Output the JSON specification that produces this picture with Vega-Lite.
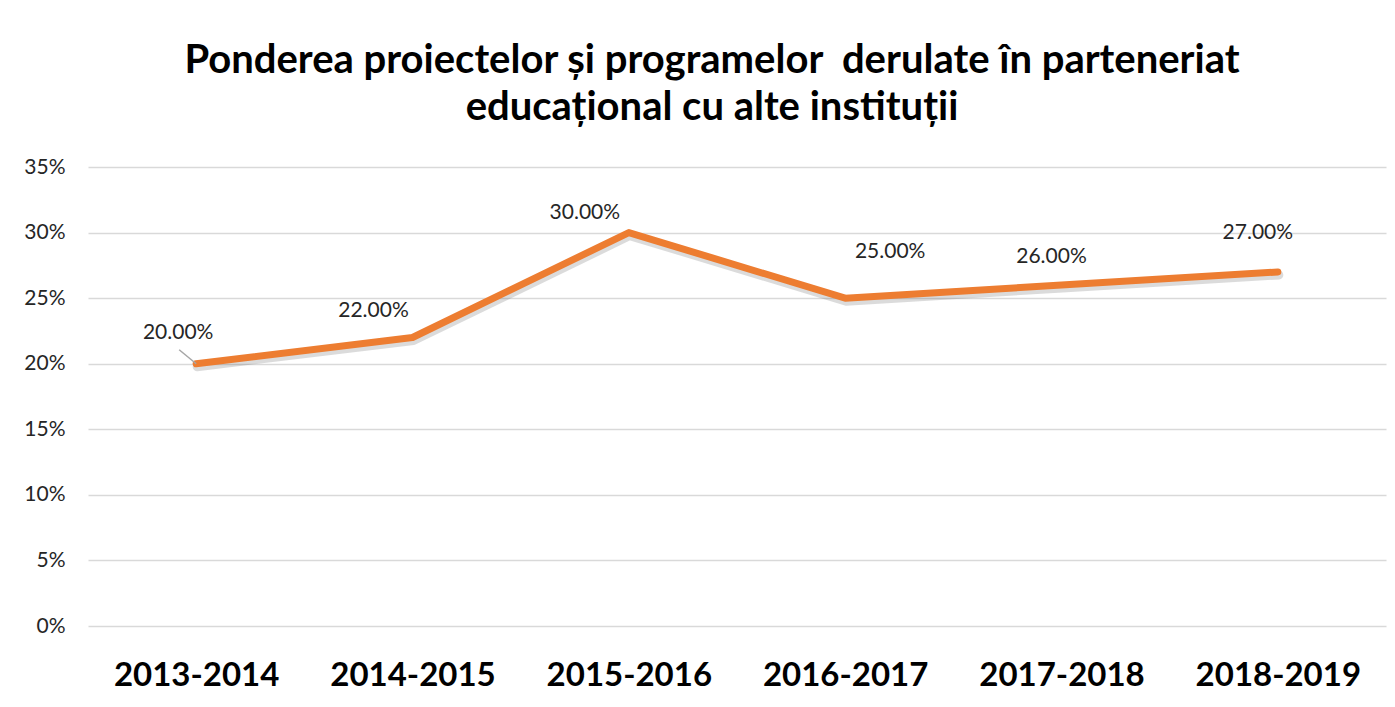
{
  "$schema": "https://vega.github.io/schema/vega-lite/v6.json",
  "width": 1298,
  "height": 459,
  "autosize": {"type": "none"},
  "padding": {"left": 88, "top": 167, "right": 9, "bottom": 81},
  "background": "white",
  "config": {"view": {"stroke": null}, "font": "Lato"},
  "title": {
    "text": ["Ponderea proiectelor și programelor \u00a0derulate în parteneriat", "educațional cu alte instituții"],
    "fontSize": 40,
    "font": "Lato",
    "fontWeight": "bold",
    "color": "#000000",
    "anchor": "middle",
    "lineHeight": 47,
    "offset": 28,
    "dx": -25
  },
  "data": {
    "values": [
      {"period": "2013-2014", "value": 0.20},
      {"period": "2014-2015", "value": 0.22},
      {"period": "2015-2016", "value": 0.30},
      {"period": "2016-2017", "value": 0.25},
      {"period": "2017-2018", "value": 0.26},
      {"period": "2018-2019", "value": 0.27}
    ]
  },
  "encoding": {
    "x": {
      "field": "period", "type": "nominal", "sort": null,
      "scale": {"type": "point", "padding": 0.5},
      "axis": {"title": null, "labelAngle": 0, "labelFontSize": 33, "labelFontWeight": "bold", "labelColor": "#000000", "labelFont": "Lato", "domain": false, "ticks": false, "grid": false, "labelPadding": 33, "labelBaseline": "top"}
    },
    "y": {
      "field": "value", "type": "quantitative",
      "scale": {"domain": [0, 0.35], "nice": false},
      "axis": {"title": null, "values": [0, 0.05, 0.1, 0.15, 0.2, 0.25, 0.3, 0.35], "format": ".0%", "labelFontSize": 21, "labelColor": "#262626", "labelFont": "Lato", "domain": false, "ticks": false, "labelPadding": 23, "gridColor": "#d9d9d9", "gridWidth": 1.5}
    }
  },
  "layer": [
    {"mark": {"type": "line", "color": "#595959", "opacity": 0.22, "strokeWidth": 9, "strokeCap": "round", "strokeJoin": "round", "yOffset": 3, "xOffset": 1}},
    {"mark": {"type": "line", "color": "#ED7D31", "strokeWidth": 7, "strokeCap": "round", "strokeJoin": "round"}},
    {
      "transform": [{"filter": "datum.period == '2013-2014'"}],
      "mark": {"type": "rule", "color": "#a6a6a6", "strokeWidth": 1.5, "x2Offset": -17, "y2Offset": -14},
      "encoding": {"x2": {"field": "period"}, "y2": {"field": "value"}}
    },
    {
      "transform": [{"filter": "datum.period == '2013-2014'"}],
      "mark": {"type": "text", "fontSize": 21, "color": "#262626", "baseline": "middle", "dx": -18, "dy": -31},
      "encoding": {"text": {"field": "value", "format": ".2%"}}
    },
    {
      "transform": [{"filter": "datum.period == '2014-2015'"}],
      "mark": {"type": "text", "fontSize": 21, "color": "#262626", "baseline": "middle", "dx": -39, "dy": -26},
      "encoding": {"text": {"field": "value", "format": ".2%"}}
    },
    {
      "transform": [{"filter": "datum.period == '2015-2016'"}],
      "mark": {"type": "text", "fontSize": 21, "color": "#262626", "baseline": "middle", "dx": -44, "dy": -20},
      "encoding": {"text": {"field": "value", "format": ".2%"}}
    },
    {
      "transform": [{"filter": "datum.period == '2016-2017'"}],
      "mark": {"type": "text", "fontSize": 21, "color": "#262626", "baseline": "middle", "dx": 45, "dy": -46},
      "encoding": {"text": {"field": "value", "format": ".2%"}}
    },
    {
      "transform": [{"filter": "datum.period == '2017-2018'"}],
      "mark": {"type": "text", "fontSize": 21, "color": "#262626", "baseline": "middle", "dx": -10, "dy": -28},
      "encoding": {"text": {"field": "value", "format": ".2%"}}
    },
    {
      "transform": [{"filter": "datum.period == '2018-2019'"}],
      "mark": {"type": "text", "fontSize": 21, "color": "#262626", "baseline": "middle", "dx": -20, "dy": -39},
      "encoding": {"text": {"field": "value", "format": ".2%"}}
    }
  ]
}
